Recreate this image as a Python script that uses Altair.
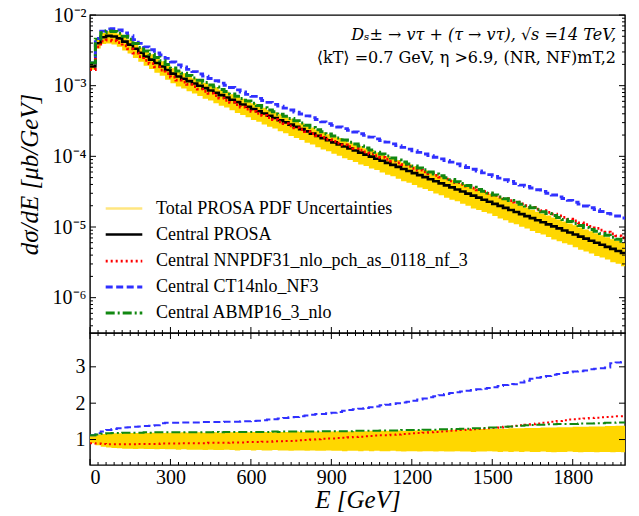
import altair as alt
import pandas as pd

# ---------------- data ----------------
bin_left_edges = list(range(0, 2000, 20))          # 20 GeV bins

central_prosa_log10 = [
    -2.728, -2.400, -2.315, -2.296, -2.305, -2.330, -2.376, -2.420, -2.478, -2.535,
    -2.588, -2.632, -2.680, -2.728, -2.778, -2.830, -2.870, -2.903, -2.936, -2.969,
    -3.002, -3.035, -3.068, -3.101, -3.134, -3.167, -3.200, -3.233, -3.266, -3.299,
    -3.331, -3.362, -3.394, -3.426, -3.457, -3.489, -3.520, -3.552, -3.584, -3.615,
    -3.647, -3.678, -3.710, -3.742, -3.773, -3.802, -3.831, -3.860, -3.889, -3.918,
    -3.947, -3.976, -4.005, -4.034, -4.063, -4.092, -4.121, -4.150, -4.179, -4.208,
    -4.237, -4.266, -4.295, -4.324, -4.353, -4.382, -4.411, -4.440, -4.469, -4.498,
    -4.527, -4.556, -4.585, -4.614, -4.643, -4.672, -4.701, -4.730, -4.759, -4.788,
    -4.817, -4.846, -4.875, -4.904, -4.933, -4.962, -4.991, -5.020, -5.049, -5.078,
    -5.107, -5.136, -5.165, -5.194, -5.223, -5.252, -5.281, -5.310, -5.339, -5.368]

ratio_nnpdf = [
    0.90, 0.89, 0.88, 0.87, 0.87, 0.87, 0.87, 0.87, 0.87, 0.88,
    0.88, 0.88, 0.88, 0.89, 0.89, 0.89, 0.89, 0.90, 0.90, 0.90,
    0.90, 0.90, 0.91, 0.91, 0.91, 0.91, 0.92, 0.92, 0.92, 0.93,
    0.93, 0.93, 0.94, 0.94, 0.95, 0.95, 0.96, 0.96, 0.97, 0.98,
    0.99, 1.00, 1.01, 1.02, 1.03, 1.03, 1.04, 1.05, 1.06, 1.07,
    1.08, 1.09, 1.10, 1.11, 1.12, 1.12, 1.13, 1.14, 1.15, 1.16,
    1.17, 1.18, 1.19, 1.20, 1.21, 1.22, 1.23, 1.24, 1.25, 1.26,
    1.27, 1.28, 1.29, 1.30, 1.31, 1.32, 1.33, 1.35, 1.36, 1.38,
    1.39, 1.41, 1.42, 1.44, 1.46, 1.47, 1.49, 1.51, 1.53, 1.55,
    1.56, 1.57, 1.58, 1.59, 1.60, 1.61, 1.62, 1.63, 1.64, 1.64]

ratio_ct14 = [
    1.12, 1.17, 1.22, 1.26, 1.29, 1.31, 1.33, 1.34, 1.35, 1.36,
    1.37, 1.38, 1.39, 1.45, 1.46, 1.46, 1.46, 1.47, 1.47, 1.47,
    1.47, 1.48, 1.48, 1.48, 1.48, 1.49, 1.49, 1.49, 1.50, 1.50,
    1.51, 1.52, 1.53, 1.55, 1.56, 1.58, 1.59, 1.61, 1.62, 1.64,
    1.66, 1.68, 1.70, 1.70, 1.72, 1.74, 1.76, 1.79, 1.81, 1.83,
    1.85, 1.87, 1.89, 1.91, 1.94, 1.96, 1.98, 2.00, 2.02, 2.04,
    2.07, 2.10, 2.13, 2.16, 2.19, 2.22, 2.25, 2.28, 2.30, 2.32,
    2.34, 2.36, 2.38, 2.40, 2.42, 2.44, 2.47, 2.50, 2.53, 2.52,
    2.57, 2.62, 2.67, 2.70, 2.72, 2.75, 2.78, 2.80, 2.83, 2.85,
    2.87, 2.88, 2.90, 2.93, 2.95, 2.96, 2.98, 3.10, 3.12, 3.13]

ratio_abmp = [
    1.12, 1.14, 1.16, 1.17, 1.18, 1.18, 1.19, 1.19, 1.19, 1.19,
    1.20, 1.19, 1.20, 1.20, 1.20, 1.20, 1.20, 1.20, 1.20, 1.20,
    1.20, 1.20, 1.20, 1.21, 1.20, 1.21, 1.21, 1.21, 1.21, 1.21,
    1.21, 1.21, 1.21, 1.21, 1.22, 1.21, 1.22, 1.22, 1.22, 1.22,
    1.22, 1.22, 1.22, 1.23, 1.23, 1.23, 1.23, 1.23, 1.23, 1.24,
    1.24, 1.24, 1.24, 1.24, 1.25, 1.25, 1.25, 1.25, 1.26, 1.26,
    1.26, 1.26, 1.27, 1.27, 1.27, 1.28, 1.28, 1.29, 1.29, 1.30,
    1.30, 1.31, 1.31, 1.32, 1.33, 1.33, 1.34, 1.35, 1.36, 1.37,
    1.38, 1.39, 1.40, 1.41, 1.41, 1.42, 1.42, 1.43, 1.43, 1.43,
    1.43, 1.44, 1.44, 1.44, 1.45, 1.45, 1.46, 1.46, 1.47, 1.47]

band_low = [
    0.90, 0.84, 0.80, 0.78, 0.77, 0.76, 0.75, 0.75, 0.74, 0.75,
    0.74, 0.74, 0.73, 0.74, 0.73, 0.73, 0.72, 0.73, 0.72, 0.72,
    0.72, 0.71, 0.72, 0.71, 0.71, 0.72, 0.71, 0.70, 0.71, 0.71,
    0.70, 0.71, 0.70, 0.70, 0.71, 0.70, 0.70, 0.69, 0.70, 0.70,
    0.69, 0.70, 0.69, 0.69, 0.70, 0.69, 0.69, 0.68, 0.69, 0.69,
    0.68, 0.69, 0.68, 0.69, 0.68, 0.68, 0.69, 0.68, 0.67, 0.68,
    0.68, 0.67, 0.68, 0.68, 0.67, 0.68, 0.67, 0.67, 0.68, 0.67,
    0.67, 0.66, 0.67, 0.67, 0.68, 0.67, 0.66, 0.67, 0.66, 0.67,
    0.66, 0.67, 0.66, 0.66, 0.67, 0.66, 0.65, 0.66, 0.66, 0.67,
    0.66, 0.65, 0.66, 0.66, 0.65, 0.66, 0.66, 0.65, 0.66, 0.65]

band_high = [
    1.12, 1.14, 1.15, 1.16, 1.17, 1.17, 1.18, 1.18, 1.18, 1.19,
    1.18, 1.19, 1.19, 1.18, 1.19, 1.19, 1.19, 1.20, 1.19, 1.19,
    1.20, 1.19, 1.20, 1.20, 1.19, 1.20, 1.20, 1.21, 1.20, 1.20,
    1.21, 1.20, 1.21, 1.21, 1.20, 1.21, 1.21, 1.21, 1.22, 1.21,
    1.21, 1.22, 1.22, 1.21, 1.22, 1.22, 1.23, 1.22, 1.22, 1.23,
    1.23, 1.23, 1.24, 1.23, 1.24, 1.24, 1.24, 1.25, 1.24, 1.25,
    1.25, 1.26, 1.25, 1.26, 1.26, 1.27, 1.26, 1.27, 1.27, 1.28,
    1.28, 1.28, 1.29, 1.29, 1.29, 1.30, 1.30, 1.30, 1.31, 1.31,
    1.31, 1.32, 1.32, 1.32, 1.33, 1.33, 1.33, 1.34, 1.34, 1.34,
    1.35, 1.35, 1.35, 1.36, 1.36, 1.36, 1.37, 1.37, 1.38, 1.38]

series_names = ["Total PROSA PDF Uncertainties", "Central PROSA",
                "Central NNPDF31_nlo_pch_as_0118_nf_3", "Central CT14nlo_NF3",
                "Central ABMP16_3_nlo"]
series_colors = ["#FFE680", "black", "#FF0000", "#3030FF", "#118811"]
series_dashes = [[1, 0], [1, 0], [2, 3], [7, 3.5], [9, 3, 2, 3]]
series_widths = [2.5, 3, 2, 2, 2]

x_major_ticks = [0, 300, 600, 900, 1200, 1500, 1800]
x_minor_ticks = [t for t in range(0, 1995, 30) if t % 300 != 0]
y_top_major = [1e-6, 1e-5, 1e-4, 1e-3, 1e-2]
y_top_minor = [k * 10.0 ** e for e in range(-7, -2) for k in range(2, 10)
               if 10 ** -6.5 <= k * 10.0 ** e <= 1e-2]
y_bot_major = [1, 2, 3]

annotation_line1 = "Dₛ± → vτ + (τ → vτ), √s =14 TeV,"
annotation_line2 = "⟨kT⟩ =0.7 GeV, η >6.9, (NR, NF)mT,2"

# ---------------- tables ----------------
n = len(bin_left_edges)
edges = bin_left_edges + [2000]
idx = list(range(n)) + [n - 1]
central = [10 ** v for v in central_prosa_log10]

ratios = {"Central PROSA": [1.0] * n,
          series_names[2]: ratio_nnpdf,
          series_names[3]: ratio_ct14,
          series_names[4]: ratio_abmp}

rows = []
for s, r in ratios.items():
    for e, i in zip(edges, idx):
        rows.append({"E": e, "series": s, "v": central[i] * r[i], "ratio": r[i]})
lines_df = pd.DataFrame(rows)

band_df = pd.DataFrame({
    "E": edges,
    "lo": [central[i] * band_low[i] for i in idx],
    "hi": [central[i] * band_high[i] for i in idx],
    "rlo": [band_low[i] for i in idx],
    "rhi": [band_high[i] for i in idx],
})

# ---------------- scales & axes ----------------
FONT = "Liberation Serif"
ANN_FONT = "DejaVu Serif"
W, H_TOP, H_BOT = 535, 318, 132
xs = alt.Scale(domain=[0, 1995], nice=False, zero=False)
ys_top = alt.Scale(type="log", domain=[10 ** -6.5, 1e-2], nice=False)
ys_bot = alt.Scale(domain=[0.3, 3.93], nice=False, zero=False)

color_s = alt.Scale(domain=series_names, range=series_colors)
dash_s = alt.Scale(domain=series_names, range=series_dashes)
width_s = alt.Scale(domain=series_names, range=series_widths)

ax_top_x = None
ax_top_y = alt.Axis(
    values=y_top_major, ticks=False, domain=False, grid=False, labelPadding=4,
    labelFontSize=20, labelFont=FONT, labelColor="black",
    labelExpr="datum.value < 2e-6 ? '10⁻⁶' : datum.value < 2e-5 ? '10⁻⁵' : "
              "datum.value < 2e-4 ? '10⁻⁴' : datum.value < 2e-3 ? '10⁻³' : '10⁻²'",
    title="dσ/dE [μb/GeV]", titleFont=FONT, titleFontSize=25,
    titleFontStyle="italic", titleFontWeight="normal", titleColor="black",
    titlePadding=10)
ax_bot_x = alt.Axis(
    values=x_major_ticks, format="d", ticks=False, domain=False, grid=False,
    labelPadding=2, labelFontSize=20, labelFont=FONT, labelColor="black",
    title="E [GeV]", titleFont=FONT, titleFontSize=25, titleFontStyle="italic",
    titleFontWeight="normal", titleColor="black", titlePadding=0)
ax_bot_y = alt.Axis(
    values=y_bot_major, ticks=False, domain=False, grid=False, labelPadding=5,
    labelFontSize=20, labelFont=FONT, labelColor="black", title=None)

legend = alt.Legend(title=None, orient="none", legendX=23, legendY=183,
                    symbolType="M-2,0L2,0", symbolSize=335, labelFont=FONT,
                    labelFontSize=18, labelColor="black", rowPadding=6,
                    labelOffset=21, padding=0, labelLimit=0)


def x_ticks(values, length, H, ax, both=False):
    df = pd.DataFrame({"t": values})
    base = alt.Chart(df).mark_rule(color="black", strokeWidth=1)
    out = [base.encode(x=alt.X("t:Q", scale=xs, axis=ax),
                       y=alt.value(H), y2=alt.value(H - length))]
    if both:
        out.append(base.encode(x=alt.X("t:Q", scale=xs, axis=ax),
                               y=alt.value(0), y2=alt.value(length)))
    return out


def y_ticks(values, length, scale, ax):
    df = pd.DataFrame({"t": values})
    base = alt.Chart(df).mark_rule(color="black", strokeWidth=1)
    return [base.encode(y=alt.Y("t:Q", scale=scale, axis=ax),
                        x=alt.value(0), x2=alt.value(length)),
            base.encode(y=alt.Y("t:Q", scale=scale, axis=ax),
                        x=alt.value(W), x2=alt.value(W - length))]


# ---------------- top panel ----------------
top_band = alt.Chart(band_df).mark_area(
    interpolate="step-after", color="#FFD700", clip=True).encode(
    x=alt.X("E:Q", scale=xs, axis=ax_top_x),
    y=alt.Y("lo:Q", scale=ys_top, axis=ax_top_y),
    y2="hi:Q",
)

top_lines = []
for s in series_names[1:]:
    top_lines.append(
        alt.Chart(lines_df).transform_filter(alt.datum.series == s)
        .mark_line(interpolate="step-after", clip=True)
        .encode(
            x=alt.X("E:Q", scale=xs, axis=ax_top_x),
            y=alt.Y("v:Q", scale=ys_top, axis=ax_top_y),
            color=alt.Color("series:N", scale=color_s, legend=legend),
            strokeDash=alt.StrokeDash("series:N", scale=dash_s, legend=legend),
            strokeWidth=alt.StrokeWidth("series:N", scale=width_s, legend=legend),
        )
    )

ann1 = alt.Chart(pd.DataFrame({"t": [annotation_line1]})).mark_text(
    align="right", font=ANN_FONT, fontSize=16, fontStyle="italic", color="black").encode(
    x=alt.value(W - 9), y=alt.value(20), text="t:N")
ann2 = alt.Chart(pd.DataFrame({"t": [annotation_line2]})).mark_text(
    align="right", font=ANN_FONT, fontSize=16, color="black").encode(
    x=alt.value(W - 9), y=alt.value(43), text="t:N")

top_ticks = (x_ticks(x_major_ticks, 6, H_TOP, ax_top_x)
             + x_ticks(x_minor_ticks, 3, H_TOP, ax_top_x)
             + y_ticks(y_top_major, 6, ys_top, ax_top_y)
             + y_ticks(y_top_minor, 3, ys_top, ax_top_y))

top = alt.layer(top_band, *top_lines, ann1, ann2, *top_ticks).properties(
    width=W, height=H_TOP)

# ---------------- bottom panel ----------------
bot_band = alt.Chart(band_df).mark_area(
    interpolate="step-after", color="#FFD700", clip=True).encode(
    x=alt.X("E:Q", scale=xs, axis=ax_bot_x),
    y=alt.Y("rlo:Q", scale=ys_bot, axis=ax_bot_y),
    y2="rhi:Q",
)

bot_lines = []
for s, col, dash, wd in zip(series_names[2:], series_colors[2:],
                            series_dashes[2:], series_widths[2:]):
    bot_lines.append(
        alt.Chart(lines_df).transform_filter(alt.datum.series == s)
        .mark_line(interpolate="step-after", clip=True, color=col,
                   strokeDash=dash, strokeWidth=wd)
        .encode(x=alt.X("E:Q", scale=xs, axis=ax_bot_x),
                y=alt.Y("ratio:Q", scale=ys_bot, axis=ax_bot_y))
    )

bot_ticks = (x_ticks(x_major_ticks, 6, H_BOT, ax_bot_x, both=True)
             + x_ticks(x_minor_ticks, 3, H_BOT, ax_bot_x, both=True)
             + y_ticks(y_bot_major, 6, ys_bot, ax_bot_y))

bottom = alt.layer(bot_band, *bot_lines, *bot_ticks).properties(
    width=W, height=H_BOT)

chart = alt.vconcat(top, bottom, spacing=0, bounds="flush").properties(
    padding={"left": 16, "top": 4, "right": 5, "bottom": 5}
).configure_view(stroke="black", strokeWidth=1.4).configure_axis(
    grid=False).configure_legend(labelFont=FONT, labelFontSize=18)

chart.save("out.html", embed_options={"renderer": "svg", "actions": False})
